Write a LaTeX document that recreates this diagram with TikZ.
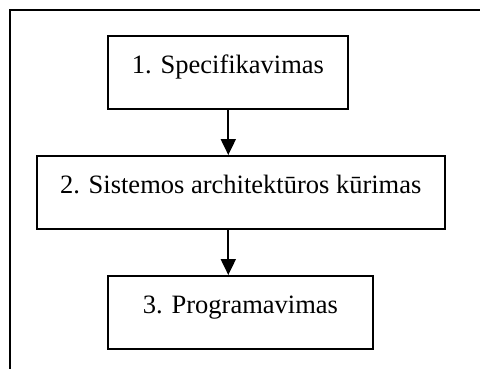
\documentclass[tikz,border=0pt]{standalone}
\usepackage{fontspec}
\setmainfont{Liberation Serif}
\usetikzlibrary{arrows.meta}
\tikzset{
  frame/.style={line width=2.6pt},
  stepbox/.style={draw, line width=2pt, inner sep=0pt, anchor=north west,
    font=\fontsize{26.5}{30}\selectfont, text height=37pt, text depth=36pt},
  flow/.style={line width=2pt, -{Triangle[length=16pt,width=15pt]}}
}
\begin{document}
\begin{tikzpicture}[x=1pt,y=1pt]
  \useasboundingbox (0,0) rectangle (480,-368);
  % open outer frame (left and top edges)
  \draw[frame] (10,-372) -- (10,-10) -- (484,-10);
  % process steps
  \node[stepbox, minimum width=240pt] (b1) at (107,-35) {1. Specifikavimas};
  \node[stepbox, minimum width=408pt] (b2) at (35.7,-155) {2. Sistemos architektūros kūrimas};
  \node[stepbox, minimum width=265pt] (b3) at (107,-275) {3. Programavimas};
  % connectors share one vertical line
  \coordinate (ax) at (228.3,0);
  \draw[flow] (b1.south -| ax) -- (b2.north -| ax);
  \draw[flow] (b2.south -| ax) -- (b3.north -| ax);
\end{tikzpicture}
\end{document}
